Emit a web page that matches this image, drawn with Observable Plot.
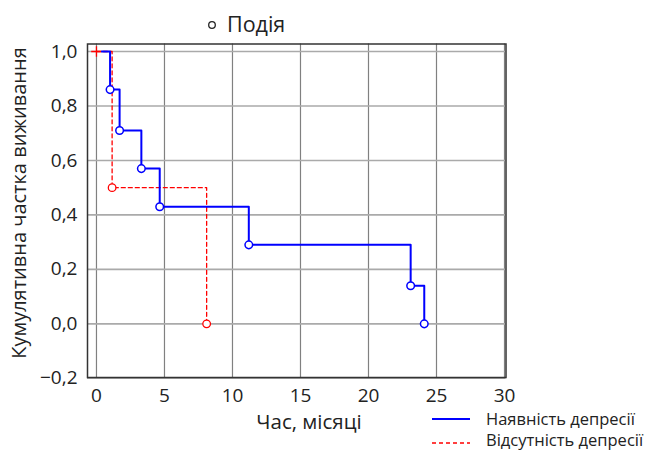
<!DOCTYPE html>
<html>
<head>
<meta charset="utf-8">
<script src="https://cdn.jsdelivr.net/npm/d3@7"></script>
<script src="https://cdn.jsdelivr.net/npm/@observablehq/plot@0.6"></script>
<style>
  body { margin: 0; background: #fff; font-family: "Open Sans", sans-serif; }
  #wrap { position: relative; width: 647px; height: 450px; overflow: hidden; }
  #wrap > svg { position: absolute; left: 0; top: 0; }
  .txt { position: absolute; white-space: nowrap; color: #222; line-height: 1; }
  .sw { position: absolute; }
</style>
</head>
<body>
<div id="wrap"></div>
<script>
// Data
const blueTime = [0.4, 1.0, 1.7, 3.3, 4.65, 11.2, 23.1, 24.1];
const blueSurv = [1.0, 0.86, 0.71, 0.57, 0.43, 0.29, 0.14, 0.0];
const redTime = [0, 1.15, 8.1];
const redSurv = [1.0, 0.5, 0.0];
const xTicks = [0, 5, 10, 15, 20, 25, 30];
const yTicks = [-0.2, 0, 0.2, 0.4, 0.6, 0.8, 1.0];
const seriesNames = ["Наявність депресії", "Відсутність депресії"];
const eventLabel = "Подія";
const xTitle = "Час, місяці";
const yTitle = "Кумулятивна частка виживання";

const blue = blueTime.map((t, i) => ({t, s: blueSurv[i]}));
const red = redTime.map((t, i) => ({t, s: redSurv[i]}));
const fmt = d => d.toFixed(1).replace(".", ",").replace("-", "\u2212");

const chart = Plot.plot({
  width: 647,
  height: 450,
  marginLeft: 87,
  marginRight: 141.5,
  marginTop: 43.5,
  marginBottom: 73,
  style: {fontFamily: "Open Sans, sans-serif", fontSize: "19px", color: "#222", background: "#fff"},
  x: {domain: [-0.66, 30.11], ticks: xTicks, tickSize: 0, tickPadding: 11, label: null},
  y: {domain: [-0.197, 1.0275], ticks: yTicks, tickSize: 0, tickPadding: 10, tickFormat: fmt, label: null},
  marks: [
    Plot.ruleX(xTicks, {stroke: "#808080", strokeWidth: 1.2}),
    Plot.ruleY(yTicks, {stroke: "#aaaaaa", strokeWidth: 1.6}),
    Plot.frame({stroke: "#333", strokeWidth: 1.5}),
    Plot.line(red, {x: "t", y: "s", curve: "step-after", stroke: "#ff0000", strokeWidth: 1.3, strokeDasharray: "4,3"}),
    Plot.dot([red[0]], {x: "t", y: "s", symbol: "plus", r: 3.5, stroke: "#ff0000", strokeWidth: 1.3}),
    Plot.line(blue, {x: "t", y: "s", curve: "step-after", stroke: "#0000ff", strokeWidth: 2}),
    Plot.dot(red.slice(1), {x: "t", y: "s", r: 3.8, fill: "white", stroke: "#ff0000", strokeWidth: 1.3}),
    Plot.dot(blue.slice(1), {x: "t", y: "s", r: 3.8, fill: "white", stroke: "#0000ff", strokeWidth: 1.5})
  ]
});
const wrap = document.getElementById("wrap");
wrap.appendChild(chart);

function addText(str, css) {
  const d = document.createElement("div");
  d.className = "txt";
  d.textContent = str;
  Object.assign(d.style, css);
  wrap.appendChild(d);
  return d;
}
function addSwatch(html, left, top, w, h) {
  const d = document.createElement("div");
  d.className = "sw";
  d.style.left = left + "px"; d.style.top = top + "px";
  d.innerHTML = `<svg width="${w}" height="${h}" style="display:block">${html}</svg>`;
  wrap.appendChild(d);
}
// Top legend: event marker
addSwatch('<circle cx="6" cy="6" r="3.3" fill="white" stroke="#222" stroke-width="1.3"/>', 205.7, 19, 12, 12);
addText(eventLabel, {left: "227px", top: "12.5px", fontSize: "21.5px"});

// Axis titles
addText(xTitle, {left: "309px", top: "411.3px", fontSize: "20.5px", transform: "translateX(-50%)"});
addText(yTitle, {left: "18.5px", top: "203px", fontSize: "20px", transform: "translate(-50%,-50%) rotate(-90deg)"});

// Bottom legend
addSwatch('<line x1="0" x2="38" y1="3" y2="3" stroke="#0000ff" stroke-width="2"/>', 432, 416, 38, 6);
addText(seriesNames[0], {left: "486px", top: "410.5px", fontSize: "16.5px"});
addSwatch('<line x1="0" x2="38" y1="3" y2="3" stroke="#ff0000" stroke-width="1.3" stroke-dasharray="4,3"/>', 432, 439.7, 38, 6);
addText(seriesNames[1], {left: "486px", top: "432.3px", fontSize: "16.5px"});
</script>
</body>
</html>
